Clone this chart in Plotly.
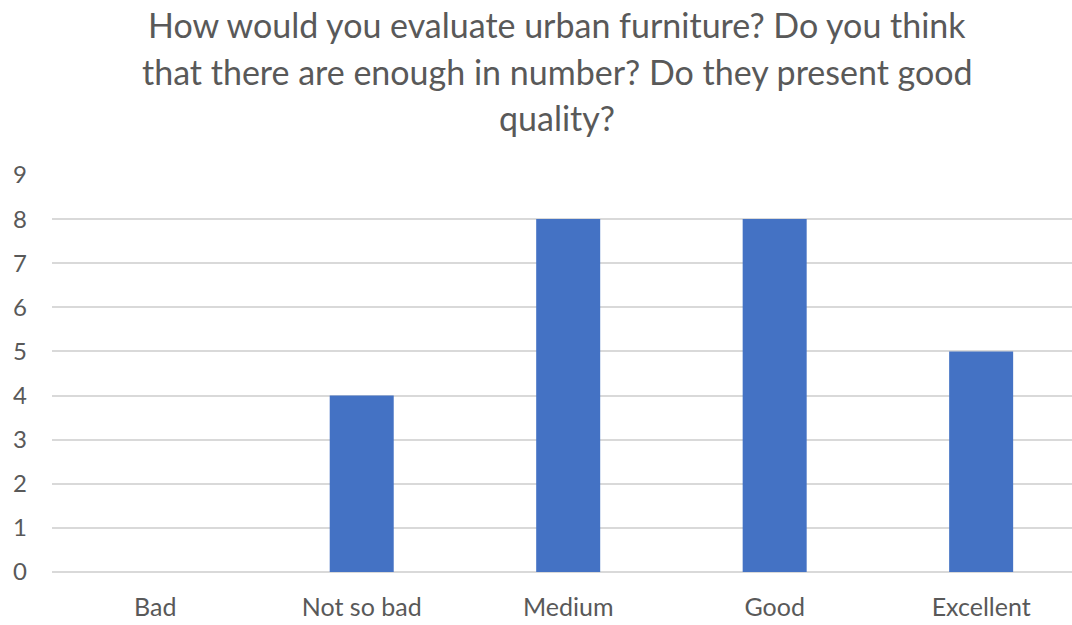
import plotly.graph_objects as go

categories = ["Bad", "Not so bad", "Medium", "Good", "Excellent"]
counts = [0, 4, 8, 8, 5]
title_lines = [
    "How would you evaluate urban furniture? Do you think",
    "that there are enough in number? Do they present good",
    "quality?",
]

W, H = 1072, 625
left, right, top, bottom = 52, 0, 175, 53
plot_h = H - top - bottom
FONT = "Lato"
GREY = "#595959"

fig = go.Figure(
    go.Bar(
        x=categories,
        y=counts,
        marker=dict(color="#4472C4", line=dict(width=0)),
        width=0.31,
    )
)

# Title lines placed individually for Office-style line spacing
line_centers = [24, 71, 117]
for text, yc in zip(title_lines, line_centers):
    fig.add_annotation(
        text=text,
        xref="paper",
        yref="paper",
        x=(557 - left) / (W - left - right),
        y=(H - bottom - yc) / plot_h,
        xanchor="center",
        yanchor="middle",
        showarrow=False,
        font=dict(family=FONT, size=34, color=GREY),
    )

fig.update_layout(
    width=W,
    height=H,
    margin=dict(l=left, r=right, t=top, b=bottom, autoexpand=False),
    plot_bgcolor="white",
    paper_bgcolor="white",
    showlegend=False,
)
fig.update_xaxes(
    range=[-0.5, 4.44],
    showgrid=False,
    showline=False,
    zeroline=False,
    ticks="",
    tickfont=dict(family=FONT, size=25, color=GREY),
    ticklabelstandoff=18,
)
fig.update_yaxes(
    range=[0, 9],
    dtick=1,
    showgrid=True,
    gridcolor="#D9D9D9",
    gridwidth=1.5,
    zeroline=True,
    zerolinecolor="#D9D9D9",
    zerolinewidth=1.5,
    showline=False,
    ticks="",
    tickfont=dict(family=FONT, size=24, color=GREY),
    ticklabelstandoff=24,
)

fig.write_html("out.html")
